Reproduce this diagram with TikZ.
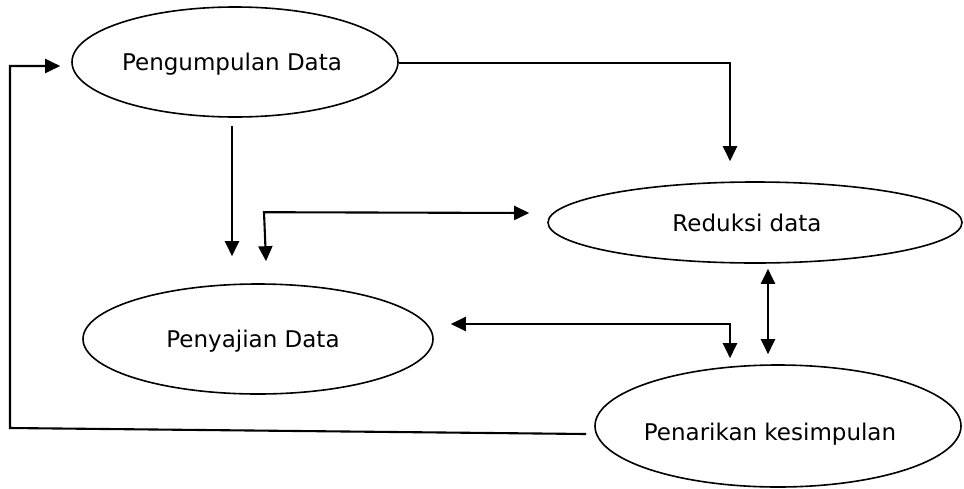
\documentclass[tikz,border=0pt]{standalone}
\usepackage{fontspec}
\setmainfont{DejaVu Sans}
\usetikzlibrary{shapes.geometric,arrows.meta,calc}
\newcommand{\shifttext}[3]{\makebox[0pt]{\hspace*{#1}\raisebox{#2}[\height][\depth]{#3}}}
\begin{document}
\begin{tikzpicture}[x=1pt,y=-1pt,
  oval/.style={ellipse,draw,line width=1.6pt,inner sep=0pt,font=\fontsize{23}{27}\selectfont},
  conn/.style={line width=2.1pt,-{Triangle[length=15pt,width=14pt]}},
  dconn/.style={line width=2.1pt,{Triangle[length=15pt,width=14pt]}-{Triangle[length=15pt,width=14pt]}}]
\useasboundingbox (0,0) rectangle (964,488);
\node[oval,minimum width=326pt,minimum height=110pt] (pd) at (235,62) {\shifttext{-6pt}{-2pt}{Pengumpulan Data}};
\node[oval,minimum width=414pt,minimum height=81pt] (rd) at (755,222.5) {\shifttext{-16pt}{0pt}{Reduksi data}};
\node[oval,minimum width=350pt,minimum height=110pt] (sd) at (258,339) {\shifttext{-10pt}{-2pt}{Penyajian Data}};
\node[oval,minimum width=366pt,minimum height=122pt] (pk) at (778,426) {\shifttext{-16pt}{-8pt}{Penarikan kesimpulan}};
% loop back from Penarikan kesimpulan to Pengumpulan Data
\coordinate (lb) at (10,428);
\draw[conn] ($(pk.west)+(-8,8)$) -- (lb) |- ($(pd.west)+(-11,4)$);
% Pengumpulan Data -> Reduksi data
\draw[conn] ($(pd.east)+(0,1)$) -| ($(rd.north)+(-25,-20)$);
% Pengumpulan Data -> Penyajian Data
\draw[conn] ($(pd.south)+(-3,8)$) -- ($(sd.north)+(-26,-27)$);
% Penyajian Data <-> Reduksi data
\draw[dconn] ($(sd.north)+(8,-22)$) -- ($(sd.north)+(6,-71)$) -- ($(rd.west)+(-18,-9.5)$);
% Penyajian Data <-> Penarikan kesimpulan
\draw[dconn] ($(sd.east)+(17,-15)$) -| ($(pk.north)+(-48,-6)$);
% Reduksi data <-> Penarikan kesimpulan
\draw[dconn] ($(rd.south)+(13,5)$) -- ($(pk.north)+(-10,-10)$);
\end{tikzpicture}
\end{document}
